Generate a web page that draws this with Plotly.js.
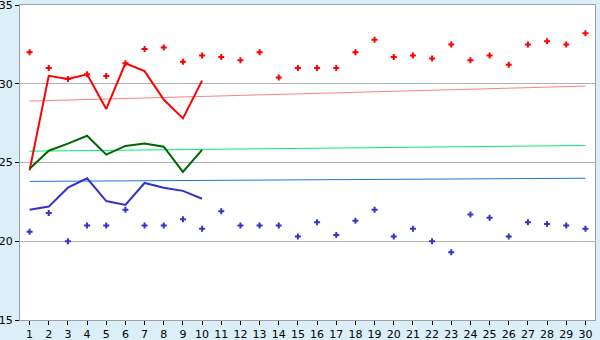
<!DOCTYPE html>
<html><head><meta charset="utf-8">
<script src="https://cdn.plot.ly/plotly-3.0.1.min.js"></script>
<style>html,body{margin:0;padding:0;background:#daeff7;}</style>
</head><body>
<div id="chart" style="width:600px;height:340px;"></div>
<script>
const days = Array.from({length:30},(_,i)=>i+1);
const daysLine = days.slice(0,10);
const redMarkers = [32.0,31.0,30.3,30.6,30.5,31.3,32.2,32.3,31.4,31.8,31.7,31.5,32.0,30.4,31.0,31.0,31.0,32.0,32.8,31.7,31.8,31.6,32.5,31.5,31.8,31.2,32.5,32.7,32.5,33.2];
const blueMarkers = [20.6,21.8,20.0,21.0,21.0,22.0,21.0,21.0,21.4,20.8,21.9,21.0,21.0,21.0,20.3,21.2,20.4,21.3,22.0,20.3,20.8,20.0,19.3,21.7,21.5,20.3,21.2,21.1,21.0,20.8];
const redLine = [24.5,30.5,30.3,30.6,28.4,31.3,30.8,29.0,27.8,30.2];
const greenLine = [24.6,25.75,26.2,26.7,25.5,26.05,26.2,26.0,24.4,25.8];
const blueLine = [22.0,22.2,23.4,24.0,22.55,22.3,23.7,23.4,23.2,22.7];
const trendX = [1,30];
const redTrend = [28.9,29.85];
const greenTrend = [25.72,26.08];
const blueTrend = [23.8,24.0];
const yTicks = [15,20,25,30,35];

const traces = [
  {x:trendX,y:redTrend,mode:'lines',line:{color:'#ff8080',width:1}},
  {x:trendX,y:greenTrend,mode:'lines',line:{color:'#00ee77',width:1}},
  {x:trendX,y:blueTrend,mode:'lines',line:{color:'#1a75e0',width:1}},
  {x:daysLine,y:redLine,mode:'lines',line:{color:'#ff0000',width:2}},
  {x:daysLine,y:greenLine,mode:'lines',line:{color:'#006600',width:2}},
  {x:daysLine,y:blueLine,mode:'lines',line:{color:'#3333cc',width:2}},
  {x:days,y:redMarkers,mode:'markers',marker:{symbol:'cross',size:5,color:'#ff0000'}},
  {x:days,y:blueMarkers,mode:'markers',marker:{symbol:'cross',size:5,color:'#3333cc'}}
];
const layout = {
  width:600,height:340,
  margin:{l:20,r:5,t:5,b:20,pad:0},
  paper_bgcolor:'#daeff7',plot_bgcolor:'#ffffff',
  showlegend:false,
  font:{family:'DejaVu Sans',size:11,color:'#000'},
  xaxis:{range:[0.5,30.5],tickvals:days,ticks:'outside',ticklen:4,tickcolor:'#000',
    showgrid:false,zeroline:false,showline:true,linecolor:'#a0a0a0',mirror:true,
    tickfont:{family:'DejaVu Sans',size:11}},
  yaxis:{range:[15,35],tickvals:yTicks,ticks:'outside',ticklen:4,tickcolor:'#000',
    showgrid:true,gridcolor:'#b0b0b0',zeroline:false,showline:true,linecolor:'#a0a0a0',mirror:true,
    ticklabeloverflow:'allow',
    tickfont:{family:'DejaVu Sans',size:11}}
};
Plotly.newPlot('chart',traces,layout,{displayModeBar:false,staticPlot:true});
</script>
</body></html>
